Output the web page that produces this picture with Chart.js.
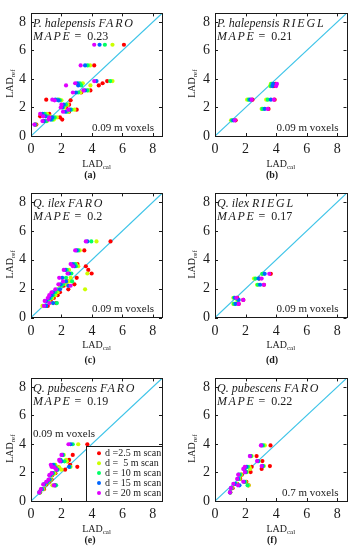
<!DOCTYPE html>
<html>
<head>
<meta charset="utf-8">
<script src="https://cdn.jsdelivr.net/npm/chart.js@4.4.1/dist/chart.umd.min.js"></script>
<style>
  html, body { margin: 0; padding: 0; background: #fff; }
  #wrap { position: relative; width: 353px; height: 550px; overflow: hidden; }
  #wrap canvas { position: absolute; }
</style>
</head>
<body>
<div id="wrap"></div>
<script>
// Scan distances (legend) and their colours (MATLAB hsv(5))
const scanLabels = ['d =2.5 m scan', 'd =  5 m scan', 'd = 10 m scan', 'd = 15 m scan', 'd = 20 m scan'];
const scanColors = ['#ff0000', '#ccff00', '#00ff66', '#0066ff', '#e000ff'];
const tickVals = [0, 2, 4, 6, 8];
const axisMax = 8.6;

const panelTags = ['(a)', '(b)', '(c)', '(d)', '(e)', '(f)'];
const species = ['P. halepensis', 'P. halepensis', 'Q. ilex', 'Q. ilex', 'Q. pubescens', 'Q. pubescens'];
const scanners = ['FARO', 'RIEGL', 'FARO', 'RIEGL', 'FARO', 'FARO'];
const mapeVals = ['0.23', '0.21', '0.2', '0.17', '0.19', '0.22'];
const voxelText = ['0.09 m voxels', '0.09 m voxels', '0.09 m voxels', '0.09 m voxels', '0.09 m voxels', '0.7 m voxels'];

// LAD_ref of each plot, and LAD_cal for scans [2.5, 5, 10, 15, 20 m]
const refA = [6.4, 4.95, 3.85, 3.7, 3.55, 3.2, 3.05, 2.55, 2.5, 2.2, 2.0, 1.85, 1.7, 1.55, 1.38, 1.3, 1.15, 1.05, 0.8];
const calA = [
  [6.1, 5.35, 4.85, 4.5, 4.15], [4.15, 3.88, 3.72, 3.55, 3.26], [5.0, 5.35, 5.2, 4.3, 4.15],
  [4.7, 3.4, 3.2, 3.05, 2.9], [4.45, 3.9, 3.3, 3.1, 2.3], [3.9, 3.75, 3.7, 3.55, 3.45],
  [3.3, 3.25, 3.1, 2.95, 2.75], [1.0, 1.85, 1.75, 1.6, 1.4], [2.6, 2.0, 1.9, 1.8, 1.55],
  [2.5, 2.4, 2.3, 2.15, 2.0], [2.3, 2.2, 2.1, 2.05, 1.95], [3.0, 2.85, 2.65, 2.55, 2.45],
  [2.5, 2.45, 2.35, 2.25, 2.1], [1.2, 1.05, 0.9, 0.75, 0.6], [0.6, 1.25, 1.1, 0.95, 0.8],
  [1.9, 1.7, 1.55, 1.4, 1.2], [2.05, 1.5, 1.4, 1.3, 1.15], [0.9, 1.05, 1.0, 0.85, 0.75],
  [0.35, 0.3, 0.28, 0.25, 0.22]
];
const refB = [3.65, 3.5, 2.55, 2.55, 1.9, 1.1];
const calB = [
  [3.95, 3.65, 3.7, 3.8, 4.05], [3.85, 3.6, 3.65, 3.75, 4.0], [2.45, 2.1, 2.2, 2.3, 2.4],
  [3.9, 3.35, 3.45, 3.65, 3.85], [3.5, 3.05, 3.1, 3.25, 3.45], [1.35, 1.05, 1.1, 1.2, 1.3]
];
const refC = [5.27, 4.65, 3.7, 3.55, 3.3, 3.05, 2.75, 2.5, 2.3, 2.2, 1.95, 1.75, 1.55, 1.35, 1.15, 1.0, 0.8];
const calC = [
  [5.22, 4.3, 3.96, 3.7, 3.6], [3.5, 3.2, 3.1, 3.0, 2.9], [3.05, 2.95, 2.9, 2.75, 2.6],
  [3.6, 3.1, 2.95, 2.85, 2.75], [3.76, 2.5, 2.35, 2.25, 2.15], [3.98, 3.7, 2.65, 2.5, 2.4],
  [3.0, 2.6, 2.3, 2.05, 1.85], [2.4, 2.5, 2.7, 2.3, 2.1], [2.85, 2.3, 2.1, 1.95, 1.8],
  [2.15, 1.9, 2.0, 2.45, 2.6], [2.45, 3.55, 1.75, 1.9, 1.6], [1.9, 1.75, 1.6, 1.45, 1.35],
  [1.75, 1.6, 1.45, 1.35, 1.2], [1.5, 1.4, 1.3, 1.2, 1.1], [1.3, 1.2, 1.1, 1.0, 0.9],
  [1.65, 1.25, 1.7, 1.45, 1.2], [1.1, 0.75, 0.9, 1.0, 0.85]
];
const refD = [3.03, 2.7, 2.27, 1.37, 1.22, 0.94];
const calD = [
  [3.65, 3.1, 3.1, 3.25, 3.55], [2.9, 2.55, 2.65, 2.85, 3.05], [3.2, 2.75, 2.8, 2.95, 3.2],
  [1.45, 1.2, 1.25, 1.3, 1.4], [1.85, 1.45, 1.5, 1.55, 1.85], [1.55, 1.2, 1.25, 1.35, 1.55]
];
const refE = [3.98, 3.23, 2.88, 2.78, 2.54, 2.4, 2.36, 2.2, 1.95, 1.81, 1.5, 1.35, 1.16, 1.1, 0.83, 0.6];
const calE = [
  [3.7, 3.1, 2.74, 2.6, 2.46], [2.74, 2.15, 2.1, 2.05, 2.0], [2.5, 2.3, 1.95, 1.9, 1.85],
  [2.4, 2.35, 2.2, 2.0, 1.9], [2.57, 1.6, 1.52, 1.45, 1.3], [3.04, 2.6, 2.55, 2.5, 1.35],
  [1.8, 1.85, 1.6, 1.55, 1.5], [2.24, 2.0, 1.75, 1.7, 1.65], [1.6, 1.55, 1.45, 1.4, 1.35],
  [1.4, 1.35, 1.3, 1.25, 1.2], [1.35, 1.3, 1.25, 1.2, 1.15], [1.2, 1.15, 1.1, 1.05, 1.0],
  [1.0, 0.95, 0.9, 0.85, 0.8], [1.6, 1.4, 1.65, 1.55, 1.5], [0.85, 0.8, 0.75, 0.7, 0.65],
  [0.6, 0.58, 0.56, 0.55, 0.54]
];
const refF = [3.9, 3.15, 2.8, 2.45, 2.4, 2.25, 2.03, 1.85, 1.55, 1.35, 1.2, 1.1, 0.9, 0.6];
const calF = [
  [3.63, 3.26, 3.15, 3.05, 3.0], [2.72, 2.4, 2.35, 2.3, 2.28], [3.1, 2.85, 2.85, 2.8, 2.75],
  [3.59, 3.2, 3.15, 3.1, 3.05], [2.4, 2.25, 2.15, 2.05, 1.95], [3.05, 2.3, 1.95, 1.9, 1.85],
  [2.33, 2.1, 2.05, 2.0, 1.96], [1.75, 1.7, 1.65, 1.55, 1.52], [1.65, 1.6, 1.55, 1.5, 1.45],
  [2.05, 2.0, 1.95, 1.9, 1.85], [1.45, 1.4, 1.35, 1.3, 1.2], [2.2, 2.2, 2.13, 1.6, 1.5],
  [1.15, 1.1, 1.08, 1.05, 1.04], [1.0, 1.0, 0.99, 0.98, 0.98]
];

const refs = [refA, refB, refC, refD, refE, refF];
const cals = [calA, calB, calC, calD, calE, calF];

const SERIF = "'Liberation Serif', 'Times New Roman', serif";
Chart.defaults.font.family = SERIF;
Chart.defaults.font.size = 14;
Chart.defaults.color = '#1a1a1a';

// canvas frames (px); yw / xh = space given to the axis boxes
const cols = [{ left: 0, w: 176, pl: 31, pr: 14, yw: 12 }, { left: 176, w: 177, pl: 39, pr: 6.5, yw: 12 }];
const rows = [
  { top: 0, h: 180, pt: 3.5, pb: 44, cap: 38, xh: 36 },
  { top: 180, h: 185, pt: 5, pb: 47.5, cap: 42, xh: 38 },
  { top: 365, h: 185, pt: 4, pb: 49, cap: 38, xh: 38 }
];

function runs(ctx, x, y, parts) {
  parts.forEach(p => {
    ctx.font = p.f;
    ctx.letterSpacing = (p.ls || 0) + 'px';
    ctx.fillText(p.t, x, y);
    x += ctx.measureText(p.t).width;
  });
  ctx.letterSpacing = '0px';
  return x;
}

function subLabel(ctx, main, sub, cx, cy) {
  ctx.font = '10px ' + SERIF;
  const w1 = ctx.measureText(main).width;
  ctx.font = '7px ' + SERIF;
  const w2 = ctx.measureText(sub).width;
  const x0 = cx - (w1 + w2) / 2;
  ctx.textAlign = 'left';
  ctx.textBaseline = 'alphabetic';
  ctx.font = '10px ' + SERIF;
  ctx.fillText(main, x0, cy + 3.5);
  ctx.font = '7px ' + SERIF;
  ctx.fillText(sub, x0 + w1, cy + 5.5);
}

function makePlugin(idx, row) {
  return {
    id: 'deco' + idx,
    afterDraw(chart) {
      const ctx = chart.ctx;
      const { left, right, top, bottom } = chart.chartArea;
      const xs = chart.scales.x, ys = chart.scales.y;
      ctx.save();
      ctx.strokeStyle = '#1a1a1a';
      ctx.lineWidth = 1;
      ctx.strokeRect(Math.round(left) + 0.5, Math.round(top) + 0.5, Math.round(right - left), Math.round(bottom - top));
      ctx.beginPath();
      tickVals.forEach(v => {
        const px = Math.round(xs.getPixelForValue(v)) + 0.5;
        const py = Math.round(ys.getPixelForValue(v)) + 0.5;
        ctx.moveTo(px, bottom); ctx.lineTo(px, bottom - 3);
        ctx.moveTo(px, top); ctx.lineTo(px, top + 3);
        ctx.moveTo(left, py); ctx.lineTo(left + 3, py);
        ctx.moveTo(right, py); ctx.lineTo(right - 3, py);
      });
      ctx.stroke();

      ctx.fillStyle = '#1a1a1a';
      // axis titles
      subLabel(ctx, 'LAD', 'cal', (left + right) / 2, bottom + 27);
      ctx.save();
      ctx.translate(left - (idx % 2 ? 24 : 22), (top + bottom) / 2 + 9);
      ctx.rotate(-Math.PI / 2);
      subLabel(ctx, 'LAD', 'ref', 0, 0);
      ctx.restore();

      // caption
      ctx.font = 'bold 10px ' + SERIF;
      ctx.textAlign = 'center';
      ctx.fillText(panelTags[idx], left + (idx % 2 ? 57 : 59), bottom + row.cap + 3.5);

      // annotations
      ctx.textAlign = 'left';
      const it = 'italic 12px ' + SERIF, rm = '12px ' + SERIF;
      runs(ctx, left + 2, top + 14, [{ t: species[idx] + ' ', f: it }, { t: scanners[idx], f: it, ls: 1.8 }]);
      runs(ctx, left + 2, top + 27, [{ t: 'MAPE', f: it, ls: 1.6 }, { t: ' =  ', f: rm }, { t: mapeVals[idx], f: rm }]);
      ctx.font = '11px ' + SERIF;
      if (idx === 4) {
        ctx.fillText(voxelText[idx], left + 2, top + 58.5);
        // legend box
        const lx = right - 76, ly = bottom - 55;
        ctx.fillStyle = '#fff';
        ctx.fillRect(lx, ly, 76, 55);
        ctx.strokeStyle = '#1a1a1a';
        ctx.strokeRect(Math.round(lx) + 0.5, Math.round(ly) + 0.5, 76, 55);
        ctx.font = '10px ' + SERIF;
        scanLabels.forEach((lab, k) => {
          const cy = bottom - 47.7 + k * 9.9;
          ctx.fillStyle = scanColors[k];
          ctx.beginPath(); ctx.arc(lx + 13, cy, 2, 0, Math.PI * 2); ctx.fill();
          ctx.fillStyle = '#1a1a1a';
          ctx.textBaseline = 'middle';
          ctx.fillText(lab, lx + 19, cy + 0.5);
        });
      } else {
        ctx.textAlign = 'right';
        ctx.fillText(voxelText[idx], right - 8, bottom - 5.5);
      }
      ctx.restore();
    }
  };
}

const wrap = document.getElementById('wrap');
for (let idx = 0; idx < 6; idx++) {
  const col = cols[idx % 2], row = rows[Math.floor(idx / 2)];
  const cv = document.createElement('canvas');
  cv.width = col.w; cv.height = row.h;
  cv.style.left = col.left + 'px'; cv.style.top = row.top + 'px';
  cv.style.width = col.w + 'px'; cv.style.height = row.h + 'px';
  wrap.appendChild(cv);

  const ref = refs[idx], cal = cals[idx];
  const datasets = scanColors.map((c, k) => ({
    type: 'scatter',
    label: scanLabels[k],
    data: ref.map((r, i) => ({ x: cal[i][k], y: r })),
    backgroundColor: c,
    borderWidth: 0,
    pointRadius: 2.1,
    order: 5 - k
  }));
  datasets.push({
    type: 'line',
    label: '1:1',
    data: [{ x: 0, y: 0 }, { x: axisMax, y: axisMax }],
    borderColor: '#3ec4e8',
    borderWidth: 1.2,
    pointRadius: 0,
    order: 10
  });

  const axis = (isX) => ({
    type: 'linear', min: 0, max: axisMax,
    grid: { display: false, drawTicks: false, tickLength: 0 }, border: { display: false },
    afterBuildTicks: s => { s.ticks = tickVals.map(v => ({ value: v })); },
    afterFit: s => { if (isX) s.height = row.xh; else s.width = col.yw; },
    ticks: {
      padding: 5, autoSkip: false, maxRotation: 0, crossAlign: isX ? 'near' : 'far',
      color: '#1a1a1a', font: { family: SERIF, size: 14 }
    }
  });

  new Chart(cv, {
    type: 'scatter',
    data: { datasets },
    options: {
      responsive: false, animation: false, devicePixelRatio: 1,
      layout: { padding: { left: col.pl - col.yw, right: col.pr, top: row.pt, bottom: row.pb - row.xh } },
      plugins: { legend: { display: false }, tooltip: { enabled: false } },
      scales: { x: axis(true), y: axis(false) }
    },
    plugins: [makePlugin(idx, row)]
  });
}
</script>
</body>
</html>
